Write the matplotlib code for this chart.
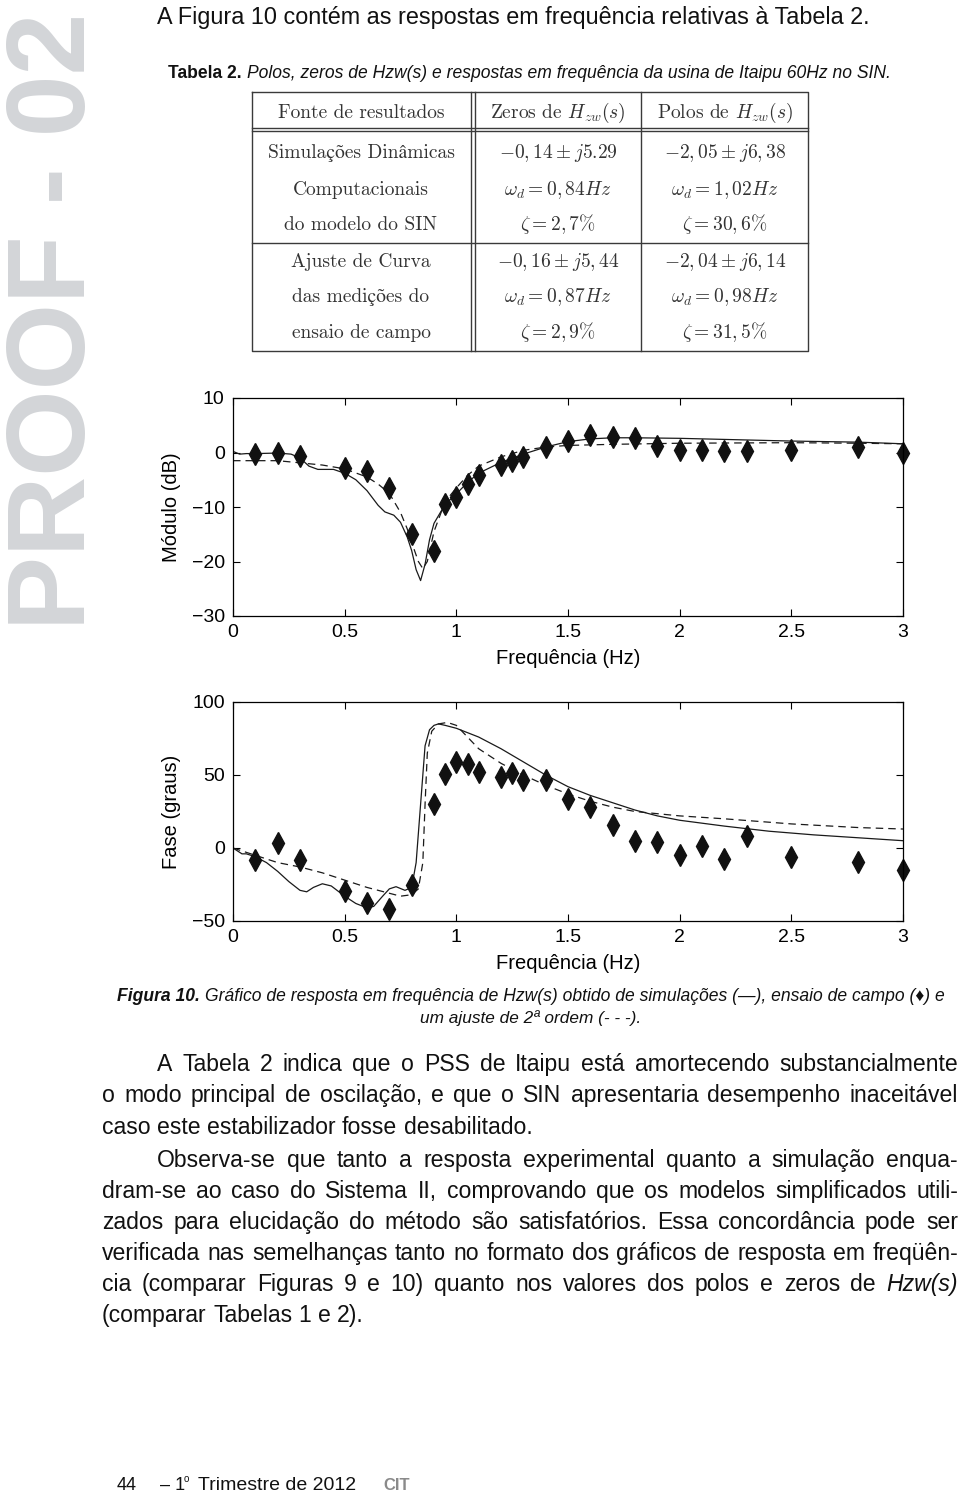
import matplotlib
matplotlib.use('Agg')
import matplotlib.pyplot as plt
from matplotlib import font_manager

# ---- dados ----
freq_meas = [0.1, 0.2, 0.3, 0.5, 0.6, 0.7, 0.8, 0.9, 0.95, 1.0, 1.05, 1.1, 1.2, 1.25,
             1.3, 1.4, 1.5, 1.6, 1.7, 1.8, 1.9, 2.0, 2.1, 2.2, 2.3, 2.5, 2.8, 3.0]
mag_meas = [-0.3, 0.0, -0.6, -2.8, -3.4, -6.6, -15.0, -18.0, -9.4, -8.1, -5.8, -4.1, -2.3, -1.6,
            -0.9, 1.0, 2.1, 3.2, 2.9, 2.6, 1.2, 0.55, 0.5, 0.25, 0.25, 0.55, 1.0, -0.1]
phase_meas = [-8.4, 3.4, -8.4, -29.7, -37.4, -42.0, -25.1, 30.1, 51.0, 59.0, 57.8, 51.8, 48.4, 51.6,
              46.3, 46.3, 33.6, 28.1, 16.0, 4.6, 3.9, -4.6, 1.1, -7.3, 8.4, -6.2, -9.4, -15.3]

freq_sim_mag = [0, 0.03, 0.06, 0.1, 0.2, 0.26, 0.3, 0.34, 0.38, 0.45, 0.5, 0.55, 0.6, 0.65, 0.68,
                0.72, 0.75, 0.78, 0.8, 0.82, 0.84, 0.86, 0.88, 0.9, 0.95, 1.0, 1.05, 1.1, 1.2,
                1.3, 1.4, 1.5, 1.6, 1.7, 1.8, 2.0, 2.2, 2.5, 2.8, 3.0]
mag_sim = [0.2, -0.3, -0.2, -0.2, -0.1, -0.3, -1.0, -2.5, -3.1, -3.1, -3.8, -5.0, -7.0, -9.7, -10.9,
           -11.5, -12.8, -15.5, -18.0, -21.5, -23.5, -20.5, -16.0, -13.0, -9.5, -7.6, -5.5, -3.8, -1.8,
           -0.3, 1.0, 2.0, 2.5, 2.7, 2.7, 2.6, 2.4, 2.1, 1.9, 1.6]

freq_fit_mag = [0, 0.2, 0.3, 0.4, 0.5, 0.6, 0.65, 0.7, 0.75, 0.78, 0.8, 0.83, 0.85, 0.87, 0.9,
                0.95, 1.0, 1.05, 1.1, 1.2, 1.3, 1.4, 1.5, 1.7, 2.0, 2.5, 2.8, 3.0]
mag_fit = [-1.5, -1.5, -1.9, -2.3, -3.0, -4.5, -5.8, -7.5, -11.0, -14.0, -16.5, -20.0, -21.3, -20.0,
           -14.5, -9.0, -6.5, -4.2, -2.5, -0.8, 0.4, 1.0, 1.3, 1.5, 1.7, 1.8, 1.7, 1.6]

freq_sim_ph = [0, 0.02, 0.04, 0.06, 0.1, 0.15, 0.2, 0.25, 0.3, 0.33, 0.36, 0.4, 0.44, 0.5, 0.55,
               0.6, 0.63, 0.67, 0.7, 0.73, 0.77, 0.8, 0.82, 0.84, 0.86, 0.88, 0.9, 0.92, 0.95,
               1.0, 1.1, 1.2, 1.3, 1.4, 1.5, 1.6, 1.7, 1.8, 1.9, 2.0, 2.2, 2.4, 2.6, 2.8, 3.0]
phase_sim = [0, -2, -4, -4, -6, -10, -16, -23, -29, -30, -27, -24.5, -26, -33, -38,
             -41, -40, -33, -28, -26.5, -29, -27, -10, 30, 70, 81, 84, 85, 84,
             82, 76, 68, 59, 50, 42, 36, 31, 26, 22, 19, 15, 11.5, 9, 7, 5]

freq_fit_ph = [0, 0.1, 0.2, 0.3, 0.4, 0.5, 0.6, 0.7, 0.75, 0.8, 0.83, 0.85, 0.86, 0.87, 0.89,
               0.92, 0.96, 1.0, 1.05, 1.1, 1.2, 1.3, 1.4, 1.5, 1.6, 1.7, 1.8, 2.0, 2.2, 2.5, 2.8, 3.0]
phase_fit = [0, -5, -10, -13, -17, -22, -27, -31, -33, -32, -28, -10, 30, 65, 80,
             85, 86, 84, 76, 68, 58, 50, 43, 37, 32, 28, 25, 22, 20, 16.5, 14, 13]

x_ticks = [0, 0.5, 1, 1.5, 2, 2.5, 3]
x_ticklabels = ['0', '0.5', '1', '1.5', '2', '2.5', '3']
mag_ticks = [-30, -20, -10, 0, 10]
phase_ticks = [-50, 0, 50, 100]

table_header = ['Fonte de resultados', r'Zeros de $H_{zw}(s)$', r'Polos de $H_{zw}(s)$']
table_rows = [
    ['Simulações Dinâmicas', r'$-0,14 \pm j5.29$', r'$-2,05 \pm j6,38$'],
    ['Computacionais', r'$\omega_d = 0,84 Hz$', r'$\omega_d = 1,02 Hz$'],
    ['do modelo do SIN', r'$\zeta = 2,7\%$', r'$\zeta = 30,6\%$'],
    ['Ajuste de Curva', r'$-0,16 \pm j5,44$', r'$-2,04 \pm j6,14$'],
    ['das medições do', r'$\omega_d = 0,87 Hz$', r'$\omega_d = 0,98 Hz$'],
    ['ensaio de campo', r'$\zeta = 2,9\%$', r'$\zeta = 31,5\%$'],
]

paragraph = [
    ('A Tabela 2 indica que o PSS de Itaipu está amortecendo substancialmente', True),
    ('o modo principal de oscilação, e que o SIN apresentaria desempenho inaceitável', True),
    ('caso este estabilizador fosse desabilitado.', False),
    ('Observa-se que tanto a resposta experimental quanto a simulação enqua-', True),
    ('dram-se ao caso do Sistema II, comprovando que os modelos simplificados utili-', True),
    ('zados para elucidação do método são satisfatórios. Essa concordância pode ser', True),
    ('verificada nas semelhanças tanto no formato dos gráficos de resposta em freqüên-', True),
    ('cia (comparar Figuras 9 e 10) quanto nos valores dos polos e zeros de *Hzw(s)', True),
    ('(comparar Tabelas 1 e 2).', False),
]

# ---- fontes ----
plt.rcParams['mathtext.fontset'] = 'cm'
SANS = ['Liberation Sans', 'DejaVu Sans']
plt.rcParams['font.family'] = SANS
try:
    font_manager.findfont(font_manager.FontProperties(family='Liberation Sans Narrow'),
                          fallback_to_default=False)
    NARROW = ['Liberation Sans Narrow', 'Liberation Sans', 'DejaVu Sans']
except ValueError:
    NARROW = SANS
SERIF = ['cmr10', 'STIXGeneral', 'DejaVu Serif']

W, H = 960, 1493
fig = plt.figure(figsize=(W / 100, H / 100), dpi=100)
renderer = fig.canvas.get_renderer()

page = fig.add_axes([0, 0, 1, 1])
page.set_xlim(0, W)
page.set_ylim(H, 0)
page.axis('off')


def px_box(x0, y0, x1, y1):
    return [x0 / W, 1 - y1 / H, (x1 - x0) / W, (y1 - y0) / H]


def width_of(t):
    return t.get_window_extent(renderer).width


def space_width(size, family, weight='normal', style='normal'):
    a = page.text(0, 0, 'x x', fontsize=size, family=family, fontweight=weight, fontstyle=style)
    b = page.text(0, 0, 'xx', fontsize=size, family=family, fontweight=weight, fontstyle=style)
    d = width_of(a) - width_of(b)
    a.remove()
    b.remove()
    return d


def put_runs(x, y, parts, size, family, target=None, center=None, color='#111111'):
    # parts: (texto, peso, estilo)
    objs = [page.text(0, y, t, fontsize=size, fontweight=wt, fontstyle=st, family=family,
                      va='baseline', color=color) for t, wt, st in parts]
    sp = space_width(size, family)
    widths = [width_of(o) for o in objs]
    total = sum(widths) + sp * (len(objs) - 1)
    k = 1.0
    if target is not None:
        k = target / total
        for o in objs:
            o.set_fontsize(size * k)
    if center is not None:
        x = center - total * k / 2
    for o, w in zip(objs, widths):
        o.set_x(x)
        x += (w + sp) * k


def justify(x0, x1, y, line, size, full):
    words = line.split(' ')
    objs = []
    for wd in words:
        st = 'normal'
        if wd.startswith('*'):
            wd, st = wd[1:], 'italic'
        objs.append(page.text(0, y, wd, fontsize=size, fontstyle=st, family=SANS,
                              va='baseline', color='#111111'))
    sp = space_width(size, SANS)
    widths = [width_of(o) for o in objs]
    k = 1.0
    natural = sum(widths) + sp * 0.6 * (len(objs) - 1)
    if natural > x1 - x0:
        k = (x1 - x0) / natural
        for o in objs:
            o.set_fontsize(size * k)
        widths = [w * k for w in widths]
    gap = sp * k
    if full:
        gap = (x1 - x0 - sum(widths)) / (len(objs) - 1)
    x = x0
    for o, w in zip(objs, widths):
        o.set_x(x)
        x += w + gap


# ---- marca d'agua ----
page.text(85, 630, 'PROOF - 02', rotation=90, rotation_mode='anchor', ha='left', va='baseline',
          fontsize=80, fontweight='bold', family=SANS, color='#d3d5d8')

# ---- texto de cima ----
put_runs(157, 24, [('A Figura 10 contém as respostas em frequência relativas à Tabela 2.', 'normal', 'normal')],
         16, SANS, target=711)
put_runs(168, 78, [('Tabela 2.', 'bold', 'normal'),
                   ('Polos, zeros de Hzw(s) e respostas em frequência da usina de Itaipu 60Hz no SIN.', 'normal', 'italic')],
         11, NARROW, target=723)

# ---- tabela ----
tl, tr, tt, tb = 252, 808, 92, 351
lc = '#3a3a3a'
page.plot([tl, tr, tr, tl, tl], [tt, tt, tb, tb, tt], color=lc, lw=1)
for yy in (128, 131, 243):
    page.plot([tl, tr], [yy, yy], color=lc, lw=1)
for xx in (471, 475, 641):
    page.plot([xx, xx], [tt, tb], color=lc, lw=1)
col_x = [361, 558, 725]
for cx, txt in zip(col_x, table_header):
    page.text(cx, 118, txt, ha='center', va='baseline', fontsize=14, family=SERIF, color='#333333')
row_y = [158, 195, 230, 267, 302, 338]
for ry, row in zip(row_y, table_rows):
    for cx, txt in zip(col_x, row):
        page.text(cx, ry, txt, ha='center', va='baseline', fontsize=14, family=SERIF, color='#333333')

# ---- graficos ----
tick_kw = dict(direction='in', top=True, right=True, length=5, width=0.8, labelsize=14, pad=6)
line_c = '#1a1a1a'

ax1 = fig.add_axes(px_box(233, 398, 903, 616))
ax1.plot(freq_sim_mag, mag_sim, color=line_c, lw=0.9)
ax1.plot(freq_fit_mag, mag_fit, color=line_c, lw=0.9, dashes=(6, 4))
ax1.plot(freq_meas, mag_meas, linestyle='none', marker='d', color='#111111', ms=11, clip_on=False)
ax1.set_xlim(0, 3)
ax1.set_ylim(-30, 10)
ax1.set_yticks(mag_ticks)
ax1.set_xlabel('Frequência (Hz)', fontsize=14.5)
ax1.set_ylabel('Módulo (dB)', fontsize=14.5)

ax2 = fig.add_axes(px_box(233, 702, 903, 921))
ax2.plot(freq_sim_ph, phase_sim, color=line_c, lw=0.9)
ax2.plot(freq_fit_ph, phase_fit, color=line_c, lw=0.9, dashes=(6, 4))
ax2.plot(freq_meas, phase_meas, linestyle='none', marker='d', color='#111111', ms=11, clip_on=False)
ax2.set_xlim(0, 3)
ax2.set_ylim(-50, 100)
ax2.set_yticks(phase_ticks)
ax2.set_xlabel('Frequência (Hz)', fontsize=14.5)
ax2.set_ylabel('Fase (graus)', fontsize=14.5)

for ax in (ax1, ax2):
    ax.set_xticks(x_ticks)
    ax.set_xticklabels(x_ticklabels)
    ax.tick_params(**tick_kw)
    for s in ax.spines.values():
        s.set_linewidth(0.9)
    ax.yaxis.set_label_coords(-0.078, 0.5)
    ax.xaxis.set_label_coords(0.5, -0.15)

# ---- legenda da figura ----
put_runs(117, 1001, [('Figura 10.', 'bold', 'italic'),
                     ('Gráfico de resposta em frequência de Hzw(s) obtido de simulações (—), ensaio de campo (♦) e',
                      'normal', 'italic')],
         12, NARROW, target=828)
put_runs(0, 1023, [('um ajuste de 2ª ordem (- - -).', 'normal', 'italic')],
         12, NARROW, target=220, center=530)

# ---- paragrafos ----
base_y = [1071, 1102, 1134, 1167, 1198, 1229, 1260, 1291, 1322]
indent = [157, 102, 102, 157, 102, 102, 102, 102, 102]
for (line, full), yy, x0 in zip(paragraph, base_y, indent):
    justify(x0, 958, yy, line, 16.6, full)

# ---- rodape ----
page.text(117, 1490, '44', fontsize=13, family=SANS, va='baseline', color='#111111')
page.text(160, 1490, '– 1', fontsize=13, family=SANS, va='baseline', color='#111111')
page.text(184, 1482, 'o', fontsize=7, family=SANS, va='baseline', color='#111111')
put_runs(198, 1490, [('Trimestre de 2012', 'normal', 'normal')], 13, SANS, target=157)
page.text(383, 1490, 'CIT', fontsize=12, fontweight='bold', family=SANS, va='baseline', color='#8a8a8a')

fig.savefig('out.png', dpi=100)
